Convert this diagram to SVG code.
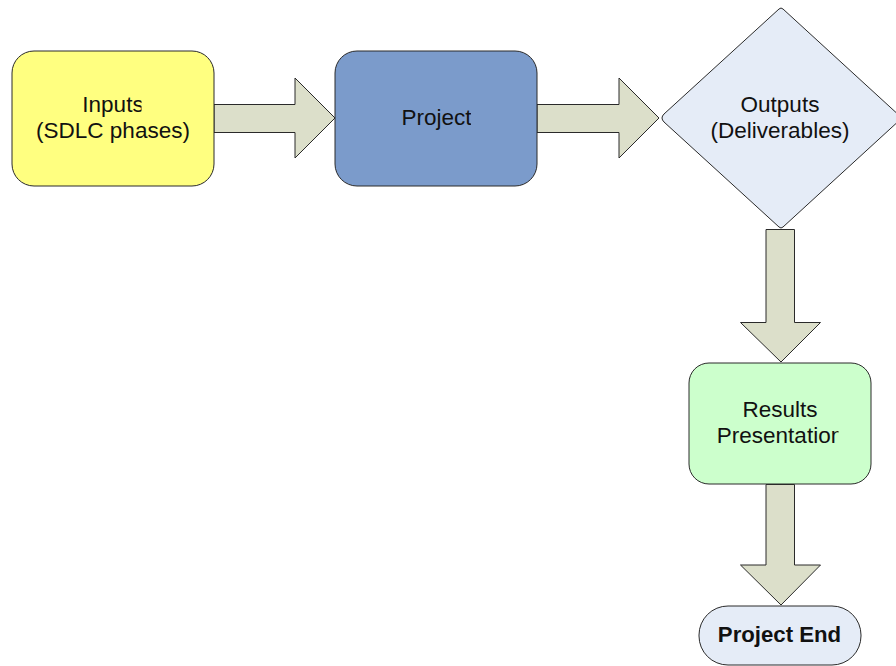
<svg xmlns="http://www.w3.org/2000/svg" width="896" height="666" viewBox="0 0 896 666">
  <style>
    .node { stroke: #2a2a2a; stroke-width: 1; }
    .arrow { fill: #dcdfca; stroke: #2a2a2a; stroke-width: 1; stroke-linejoin: miter; }
    .label { font-family: "Liberation Sans", Arial, sans-serif; font-size: 22.5px; fill: #111; text-anchor: middle; }
    .bold { font-weight: bold; font-size: 22.2px; }
  </style>
  <defs>
    <clipPath id="clipInputs"><rect x="0" y="80" width="141.5" height="70"/></clipPath>
    <clipPath id="clipProject"><rect x="335" y="80" width="136" height="70"/></clipPath>
    <clipPath id="clipResults"><rect x="689" y="380" width="149.5" height="80"/></clipPath>
    <clipPath id="clipEnd"><rect x="699" y="606" width="142" height="59"/></clipPath>
  </defs>

  <!-- connectors: block arrows -->
  <g id="connectors">
    <path class="arrow" d="M214,104.5 H295 V78 L335,118 L295,158 V132.5 H214 Z"/>
    <path class="arrow" d="M537,104.5 H619 V78 L659,118 L619,158 V132.5 H537 Z"/>
    <path class="arrow" d="M766,229.5 H794.5 V322.5 H820.5 L781,362 L740.5,322.5 H766 Z"/>
    <path class="arrow" d="M766,484.5 H794.5 V565 H820.5 L781,605 L740.5,565 H766 Z"/>
  </g>

  <g id="inputs">
    <rect class="node" x="12" y="51" width="202" height="135" rx="22" fill="#ffff80"/>
    <g clip-path="url(#clipInputs)">
      <text class="label" x="113" y="112">Inputs</text>
    </g>
    <text class="label" x="113" y="138">(SDLC phases)</text>
  </g>

  <g id="project">
    <rect class="node" x="335" y="51" width="202" height="135" rx="22" fill="#7b9bcb"/>
    <g clip-path="url(#clipProject)">
      <text class="label" x="436.5" y="125">Project</text>
    </g>
  </g>

  <g id="outputs">
    <path class="node" fill="#e5ecf7" d="M664,122 Q660,118 664,114 L779,9 Q781,7 783,9 L902,118 L783,227 Q781,229 779,227 Z"/>
    <text class="label" x="780" y="112">Outputs</text>
    <text class="label" x="780" y="138">(Deliverables)</text>
  </g>

  <g id="results">
    <rect class="node" x="689" y="363" width="182" height="121" rx="20" fill="#ccffcc"/>
    <text class="label" x="780" y="417">Results</text>
    <g clip-path="url(#clipResults)">
      <text class="label" x="780" y="443">Presentation</text>
    </g>
  </g>

  <g id="project-end">
    <rect class="node" x="699" y="606" width="162" height="59" rx="29" fill="#e5ecf7"/>
    <g clip-path="url(#clipEnd)">
      <text class="label bold" x="779.5" y="642">Project End</text>
    </g>
  </g>
</svg>
